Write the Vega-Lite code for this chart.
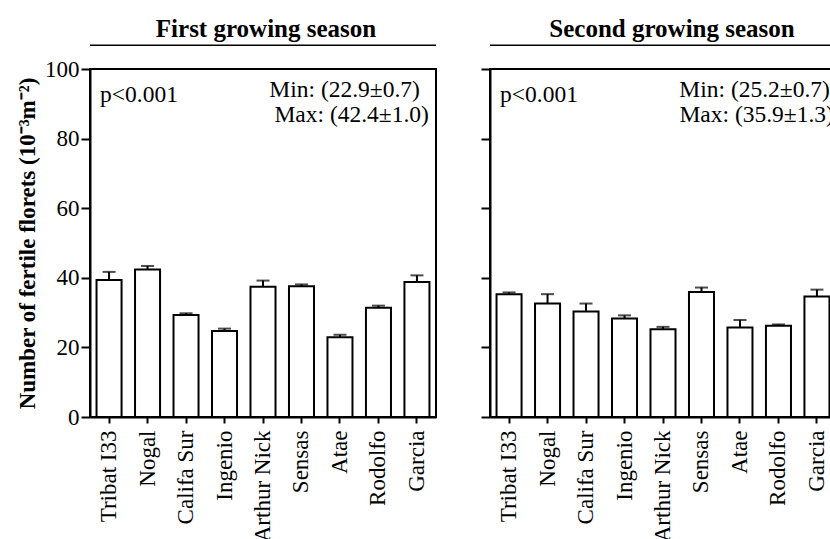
{
  "$schema": "https://vega.github.io/schema/vega-lite/v6.json",
  "background": "white",
  "padding": {"left": 15, "top": 15, "right": 0, "bottom": 0},
  "datasets": {
    "florets": [
      {"season": "First", "cultivar": "Tribat I33", "mean": 39.4, "se": 2.3},
      {"season": "First", "cultivar": "Nogal", "mean": 42.4, "se": 1.0},
      {"season": "First", "cultivar": "Califa Sur", "mean": 29.3, "se": 0.5},
      {"season": "First", "cultivar": "Ingenio", "mean": 24.7, "se": 0.7},
      {"season": "First", "cultivar": "Arthur Nick", "mean": 37.4, "se": 1.8},
      {"season": "First", "cultivar": "Sensas", "mean": 37.6, "se": 0.5},
      {"season": "First", "cultivar": "Atae", "mean": 22.9, "se": 0.7},
      {"season": "First", "cultivar": "Rodolfo", "mean": 31.4, "se": 0.6},
      {"season": "First", "cultivar": "Garcia", "mean": 38.8, "se": 1.9},
      {"season": "Second", "cultivar": "Tribat I33", "mean": 35.3, "se": 0.5},
      {"season": "Second", "cultivar": "Nogal", "mean": 32.6, "se": 2.7},
      {"season": "Second", "cultivar": "Califa Sur", "mean": 30.3, "se": 2.3},
      {"season": "Second", "cultivar": "Ingenio", "mean": 28.3, "se": 0.9},
      {"season": "Second", "cultivar": "Arthur Nick", "mean": 25.2, "se": 0.7},
      {"season": "Second", "cultivar": "Sensas", "mean": 35.9, "se": 1.3},
      {"season": "Second", "cultivar": "Atae", "mean": 25.7, "se": 2.2},
      {"season": "Second", "cultivar": "Rodolfo", "mean": 26.2, "se": 0.4},
      {"season": "Second", "cultivar": "Garcia", "mean": 34.6, "se": 2.0}
    ]
  },
  "bounds": "flush",
  "spacing": 54,
  "hconcat": [
    {
      "width": 346,
      "height": 348,
      "layer": [
        {
          "data": {"name": "florets"},
          "transform": [{"filter": "datum.season === 'First'"}],
          "mark": {"type": "errorbar", "color": "black", "thickness": 2, "ticks": {"size": 13, "thickness": 2, "color": "black"}},
          "encoding": {
            "x": {"field": "cultivar", "type": "nominal", "title": null,
                  "scale": {"domain": ["Tribat I33", "Nogal", "Califa Sur", "Ingenio", "Arthur Nick", "Sensas", "Atae", "Rodolfo", "Garcia"], "paddingInner": 0.35, "paddingOuter": 0.17}},
            "y": {"field": "mean", "type": "quantitative", "title": "Number of fertile florets (10⁻³m⁻²)",
                  "scale": {"domain": [0, 100], "nice": false}},
            "yError": {"field": "se"}
          }
        },
        {
          "data": {"name": "florets"},
          "transform": [{"filter": "datum.season === 'First'"}],
          "mark": {"type": "bar", "fill": "white", "stroke": "black", "strokeWidth": 2},
          "encoding": {
            "x": {"field": "cultivar", "type": "nominal", "title": null},
            "y": {"field": "mean", "type": "quantitative", "title": "Number of fertile florets (10⁻³m⁻²)",
                  "axis": {"values": [0, 20, 40, 60, 80, 100], "titleFontWeight": "bold", "titleFontSize": 23, "titlePadding": 5}}
          }
        },
        {
          "data": {"values": [{}]},
          "mark": {"type": "text", "text": "First growing season", "fontSize": 25, "fontWeight": "bold", "font": "Liberation Serif", "align": "center", "baseline": "alphabetic", "dx": 3, "color": "black"},
          "encoding": {"y": {"datum": 109.2}}
        },
        {
          "data": {"values": [{}]},
          "mark": {"type": "rule", "color": "black", "strokeWidth": 1.5},
          "encoding": {"y": {"datum": 106.8}}
        },
        {
          "data": {"values": [{}]},
          "mark": {"type": "text", "text": "p<0.001", "fontSize": 23.5, "font": "Liberation Serif", "align": "left", "baseline": "alphabetic", "dx": -9, "color": "black"},
          "encoding": {"x": {"datum": "Tribat I33"}, "y": {"datum": 90.4}}
        },
        {
          "data": {"values": [{}]},
          "mark": {"type": "text", "text": "Min: (22.9±0.7)", "fontSize": 23.5, "font": "Liberation Serif", "align": "right", "baseline": "alphabetic", "dx": 3, "color": "black"},
          "encoding": {"x": {"datum": "Garcia"}, "y": {"datum": 92.0}}
        },
        {
          "data": {"values": [{}]},
          "mark": {"type": "text", "text": "Max: (42.4±1.0)", "fontSize": 23.5, "font": "Liberation Serif", "align": "right", "baseline": "alphabetic", "dx": 12, "color": "black"},
          "encoding": {"x": {"datum": "Garcia"}, "y": {"datum": 84.9}}
        }
      ]
    },
    {
      "width": 346,
      "height": 348,
      "layer": [
        {
          "data": {"name": "florets"},
          "transform": [{"filter": "datum.season === 'Second'"}],
          "mark": {"type": "errorbar", "color": "black", "thickness": 2, "ticks": {"size": 13, "thickness": 2, "color": "black"}},
          "encoding": {
            "x": {"field": "cultivar", "type": "nominal", "title": null,
                  "scale": {"domain": ["Tribat I33", "Nogal", "Califa Sur", "Ingenio", "Arthur Nick", "Sensas", "Atae", "Rodolfo", "Garcia"], "paddingInner": 0.35, "paddingOuter": 0.17}},
            "y": {"field": "mean", "type": "quantitative", "title": null,
                  "scale": {"domain": [0, 100], "nice": false}},
            "yError": {"field": "se"}
          }
        },
        {
          "data": {"name": "florets"},
          "transform": [{"filter": "datum.season === 'Second'"}],
          "mark": {"type": "bar", "fill": "white", "stroke": "black", "strokeWidth": 2},
          "encoding": {
            "x": {"field": "cultivar", "type": "nominal", "title": null},
            "y": {"field": "mean", "type": "quantitative", "title": null,
                  "axis": {"values": [0, 20, 40, 60, 80, 100], "labels": false}}
          }
        },
        {
          "data": {"values": [{}]},
          "mark": {"type": "text", "text": "Second growing season", "fontSize": 25, "fontWeight": "bold", "font": "Liberation Serif", "align": "center", "baseline": "alphabetic", "dx": 9, "color": "black"},
          "encoding": {"y": {"datum": 109.2}}
        },
        {
          "data": {"values": [{}]},
          "mark": {"type": "rule", "color": "black", "strokeWidth": 1.5},
          "encoding": {"y": {"datum": 106.8}}
        },
        {
          "data": {"values": [{}]},
          "mark": {"type": "text", "text": "p<0.001", "fontSize": 23.5, "font": "Liberation Serif", "align": "left", "baseline": "alphabetic", "dx": -9, "color": "black"},
          "encoding": {"x": {"datum": "Tribat I33"}, "y": {"datum": 90.4}}
        },
        {
          "data": {"values": [{}]},
          "mark": {"type": "text", "text": "Min: (25.2±0.7)", "fontSize": 23.5, "font": "Liberation Serif", "align": "right", "baseline": "alphabetic", "dx": 13, "color": "black"},
          "encoding": {"x": {"datum": "Garcia"}, "y": {"datum": 92.0}}
        },
        {
          "data": {"values": [{}]},
          "mark": {"type": "text", "text": "Max: (35.9±1.3)", "fontSize": 23.5, "font": "Liberation Serif", "align": "right", "baseline": "alphabetic", "dx": 17, "color": "black"},
          "encoding": {"x": {"datum": "Garcia"}, "y": {"datum": 84.9}}
        }
      ]
    }
  ],
  "config": {
    "font": "Liberation Serif",
    "view": {"stroke": "black", "strokeWidth": 2},
    "axis": {
      "grid": false,
      "domainColor": "black",
      "domainWidth": 2,
      "tickColor": "black",
      "tickWidth": 2,
      "labelColor": "black",
      "labelFont": "Liberation Serif",
      "labelFontSize": 23,
      "titleFont": "Liberation Serif",
      "titleColor": "black"
    },
    "axisY": {"tickSize": 9, "labelPadding": 2},
    "axisX": {"tickSize": 6, "labelAngle": -90, "labelAlign": "right", "labelBaseline": "middle", "labelPadding": 7}
  }
}
